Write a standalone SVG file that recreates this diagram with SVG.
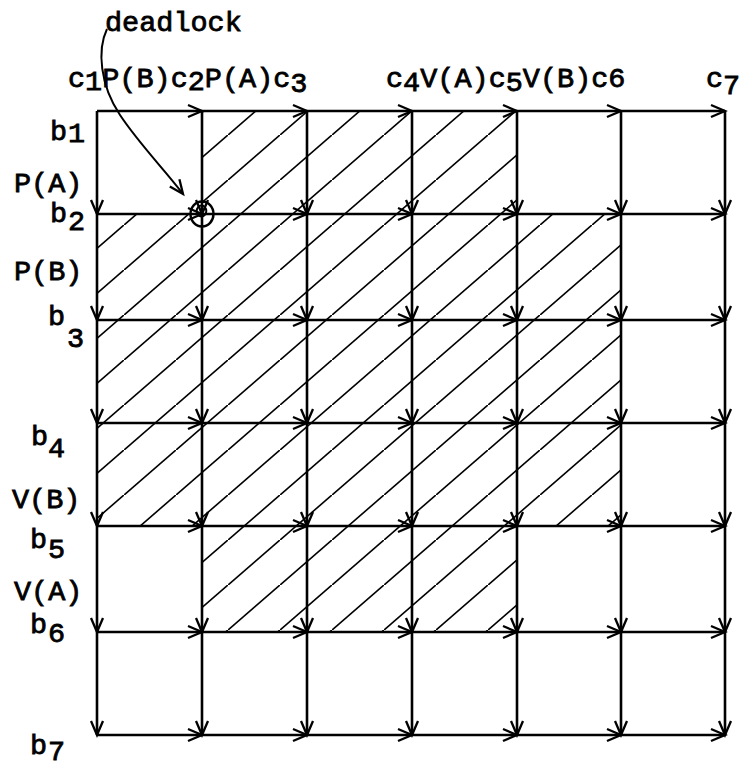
<svg xmlns="http://www.w3.org/2000/svg" width="741" height="770" viewBox="0 0 741 770">
<style>
.t{font-family:"Liberation Mono","DejaVu Sans Mono",monospace;font-size:28.5px;fill:#000;stroke:#000;stroke-width:0.8}
.g{fill:none;stroke:#000;stroke-width:2.6;marker-mid:url(#ah);marker-end:url(#ah)}
.h{fill:none;stroke:#000;stroke-width:1.7}
</style>
<defs>
<marker id="ah" markerUnits="userSpaceOnUse" markerWidth="20" markerHeight="20" refX="0" refY="0" viewBox="-16 -10 20 20" orient="auto" overflow="visible">
<path d="M-14,-6 L0,0 L-14,6" fill="none" stroke="#000" stroke-width="2.3"/>
</marker>
<pattern id="hatch" patternUnits="userSpaceOnUse" x="20" y="0" width="52" height="45">
<path class="h" d="M-5,49.33 L57,-4.33"/>
</pattern>
</defs>
<rect width="741" height="770" fill="#fff"/>
<g id="hatched-region">
<path d="M202,111 H517 V214 H621 V526 H517 V632 H202 V526 H97 V214 H202 Z" fill="url(#hatch)" stroke="none"/>
</g>
<g id="connectors">
<path class="g" d="M97,111 H202 H307 H412 H517 H621 H725"/>
<path class="g" d="M97,214 H202 H307 H412 H517 H621 H725"/>
<path class="g" d="M97,320 H202 H307 H412 H517 H621 H725"/>
<path class="g" d="M97,423 H202 H307 H412 H517 H621 H725"/>
<path class="g" d="M97,526 H202 H307 H412 H517 H621 H725"/>
<path class="g" d="M97,632 H202 H307 H412 H517 H621 H725"/>
<path class="g" d="M97,735 H202 H307 H412 H517 H621 H725"/>
<path class="g" d="M97,111 V214 V320 V423 V526 V632 V735"/>
<path class="g" d="M202,111 V214 V320 V423 V526 V632 V735"/>
<path class="g" d="M307,111 V214 V320 V423 V526 V632 V735"/>
<path class="g" d="M412,111 V214 V320 V423 V526 V632 V735"/>
<path class="g" d="M517,111 V214 V320 V423 V526 V632 V735"/>
<path class="g" d="M621,111 V214 V320 V423 V526 V632 V735"/>
<path class="g" d="M725,111 V214 V320 V423 V526 V632 V735"/>
<path d="M107,29 C97,50 100,85 120,115 C140,145 165,170 183,194" fill="none" stroke="#000" stroke-width="2" marker-end="url(#ah)"/>
</g>
<g id="deadlock-point">
<ellipse cx="202" cy="214" rx="11.5" ry="12.5" fill="none" stroke="#000" stroke-width="2.4"/>
<ellipse cx="201.5" cy="211" rx="4.8" ry="5.6" fill="none" stroke="#000" stroke-width="2"/>
</g>
<g id="label-deadlock"><text class="t" x="105" y="31">deadlock</text></g>
<g id="labels-top">
<text class="t" x="68" y="87">c<tspan dy="3">1</tspan><tspan dy="-3">P(B)c</tspan><tspan dy="3">2</tspan><tspan dy="-3">P(A)c</tspan><tspan dy="5">3</tspan></text>
<text class="t" x="386" y="87">c<tspan dy="4">4</tspan><tspan dy="-4">V(A)c</tspan><tspan dy="4">5</tspan><tspan dy="-4">V(B)c6</tspan></text>
<text class="t" x="706" y="87">c<tspan dy="7">7</tspan></text>
</g>
<g id="labels-left">
<text class="t" x="50" y="140">b<tspan x="68" y="142">1</tspan></text>
<text class="t" x="14" y="192">P(A)</text>
<text class="t" x="50" y="222">b<tspan x="68" y="230">2</tspan></text>
<text class="t" x="14" y="280">P(B)</text>
<text class="t" x="48" y="325">b<tspan x="67" y="347">3</tspan></text>
<text class="t" x="31" y="445">b<tspan x="48" y="457">4</tspan></text>
<text class="t" x="12" y="508">V(B)</text>
<text class="t" x="30" y="548">b<tspan x="48" y="558">5</tspan></text>
<text class="t" x="14" y="600">V(A)</text>
<text class="t" x="30" y="633">b<tspan x="48" y="642">6</tspan></text>
<text class="t" x="30" y="754">b<tspan x="48" y="760">7</tspan></text>
</g>
</svg>
